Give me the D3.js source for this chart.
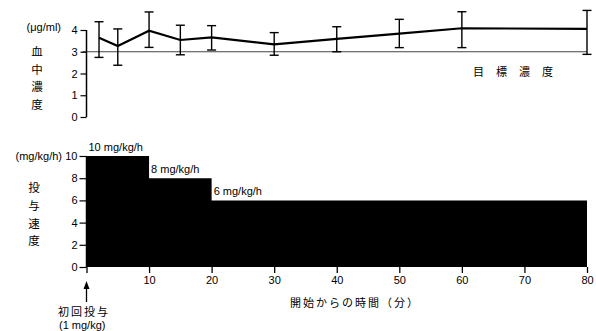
<!DOCTYPE html>
<html><head><meta charset="utf-8">
<script src="https://cdn.jsdelivr.net/npm/d3@7"></script>
<style>
body{margin:0;background:#fff;}
text{font-family:"Liberation Sans",Arial,sans-serif;fill:#000;}
.cjk{font-family:"Noto Sans CJK JP",sans-serif;}
</style></head><body>
<svg id="c" width="596" height="331"></svg>
<script>
// Data
const concTimes = [2, 5, 10, 15, 20, 30, 40, 50, 60, 80];
const concMean  = [3.64, 3.26, 3.97, 3.54, 3.66, 3.34, 3.59, 3.83, 4.08, 4.05];
const concHigh  = [4.38, 4.05, 4.83, 4.22, 4.20, 3.88, 4.15, 4.49, 4.84, 4.90];
const concLow   = [2.74, 2.38, 3.20, 2.86, 3.08, 2.84, 3.00, 3.19, 3.19, 2.88];
const targetConc = 3;
const rateTimes = [0, 10, 20, 80];
const rateValues = [10, 8, 6, 6];
const rateLabels = ["10 mg/kg/h", "8 mg/kg/h", "6 mg/kg/h"];
const xTicks = [10, 20, 30, 40, 50, 60, 70, 80];
const concTicks = [0, 1, 2, 3, 4];
const rateTicks = [0, 2, 4, 6, 8, 10];

const svg = d3.select("#c");
const x = d3.scaleLinear().domain([0, 80]).range([86.5, 587]);
const yC = d3.scaleLinear().domain([0, 4]).range([117, 30]);
const yR = d3.scaleLinear().domain([0, 10]).range([267, 156]);

// ---- Top chart ----
const gTop = svg.append("g");
gTop.append("line").attr("x1", x(0) - 4).attr("x2", x(80))
  .attr("y1", yC(targetConc)).attr("y2", yC(targetConc))
  .attr("stroke", "#444").attr("stroke-width", 1.2);
const axC = gTop.append("g").attr("transform", `translate(${x(0)},0)`)
  .call(d3.axisLeft(yC).tickValues(concTicks).tickSize(6).tickPadding(3).tickFormat(d3.format("d")));
axC.select(".domain").attr("stroke-width", 1.5).attr("d", `M-0,${yC(0)}V${yC(4)}`);
axC.selectAll(".tick line").attr("stroke-width", 1.2);
axC.selectAll("text").style("font-size", "11px");

const eb = gTop.append("g").attr("stroke", "#000").attr("stroke-width", 1.4);
concTimes.forEach((t, i) => {
  const cx = x(t);
  eb.append("line").attr("x1", cx).attr("x2", cx).attr("y1", yC(concHigh[i])).attr("y2", yC(concLow[i]));
  eb.append("line").attr("x1", cx - 4.5).attr("x2", cx + 4.5).attr("y1", yC(concHigh[i])).attr("y2", yC(concHigh[i]));
  eb.append("line").attr("x1", cx - 4.5).attr("x2", cx + 4.5).attr("y1", yC(concLow[i])).attr("y2", yC(concLow[i]));
});
const line = d3.line().x((d, i) => x(concTimes[i])).y(d => yC(d));
gTop.append("path").datum(concMean).attr("d", line)
  .attr("fill", "none").attr("stroke", "#000").attr("stroke-width", 2.2);

gTop.append("text").attr("x", 61).attr("y", 31).attr("text-anchor", "end")
  .style("font-size", "11px").text("(μg/ml)");
["血", "中", "濃", "度"].forEach((c, i) => {
  gTop.append("text").attr("class", "cjk").attr("x", 37).attr("y", 56 + i * 17.7)
    .attr("text-anchor", "middle").style("font-size", "11.5px").text(c);
});
gTop.append("text").attr("class", "cjk").attr("x", 473).attr("y", 76)
  .style("font-size", "11px").style("letter-spacing", "12px").text("目標濃度");

// ---- Bottom chart ----
const gB = svg.append("g");
const area = d3.area().curve(d3.curveStepAfter)
  .x((d, i) => x(rateTimes[i])).y0(yR(0)).y1(d => yR(d));
gB.append("path").datum(rateValues).attr("d", area).attr("fill", "#000");

const axR = gB.append("g").attr("transform", `translate(${x(0)},0)`)
  .call(d3.axisLeft(yR).tickValues(rateTicks).tickSize(7).tickPadding(2).tickFormat(d3.format("d")));
axR.select(".domain").attr("stroke-width", 1.5).attr("d", `M-0,${yR(0)}V${yR(10)}`);
axR.selectAll(".tick line").attr("stroke-width", 1.2);
axR.selectAll("text").style("font-size", "11px");

const axX = gB.append("g").attr("transform", `translate(0,${yR(0)})`)
  .call(d3.axisBottom(x).tickValues([0].concat(xTicks)).tickSize(6).tickPadding(3)
    .tickFormat(d => d === 0 ? "" : d));
axX.select(".domain").remove();
axX.selectAll(".tick line").attr("stroke-width", 1.3);
axX.selectAll("text").style("font-size", "11px");

gB.append("text").attr("x", 62).attr("y", 160).attr("text-anchor", "end")
  .style("font-size", "11px").text("(mg/kg/h)");
["投", "与", "速", "度"].forEach((c, i) => {
  gB.append("text").attr("class", "cjk").attr("x", 34).attr("y", 192 + i * 17.8)
    .attr("text-anchor", "middle").style("font-size", "11.5px").text(c);
});
rateLabels.forEach((lab, i) => {
  gB.append("text").attr("x", x(rateTimes[i]) + 2).attr("y", yR(rateValues[i]) - 5)
    .style("font-size", "11px").text(lab);
});
gB.append("text").attr("class", "cjk").attr("x", 290).attr("y", 307)
  .style("font-size", "11px").style("letter-spacing", "2px").text("開始からの時間（分）");

// arrow
gB.append("line").attr("x1", x(0)).attr("x2", x(0)).attr("y1", 288).attr("y2", 302)
  .attr("stroke", "#000").attr("stroke-width", 1.3);
gB.append("path").attr("d", `M${x(0)},281L${x(0)-3},289L${x(0)+3},289Z`).attr("fill", "#000");
gB.append("text").attr("class", "cjk").attr("x", 58).attr("y", 316)
  .style("font-size", "11px").style("letter-spacing", "2px").text("初回投与");
gB.append("text").attr("x", 59).attr("y", 329)
  .style("font-size", "11px").text("(1 mg/kg)");
</script>
</body></html>
